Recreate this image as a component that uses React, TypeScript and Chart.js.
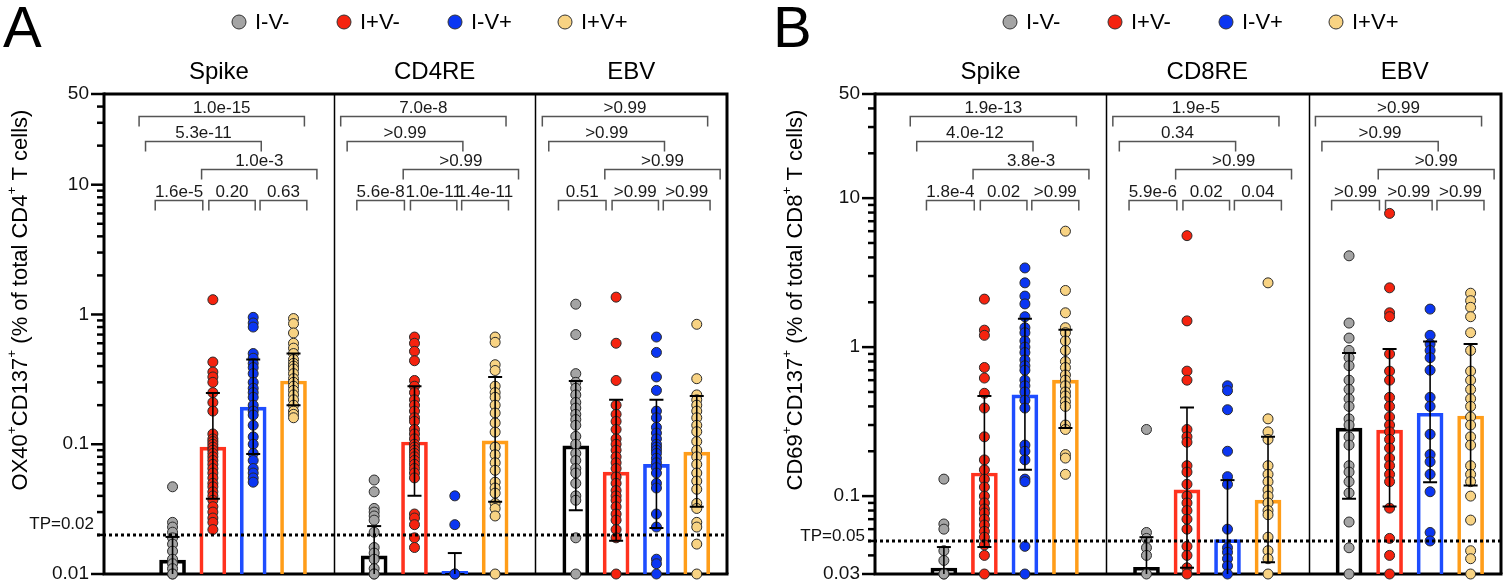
import React, { useEffect, useRef } from 'react';
import { Chart, registerables } from 'chart.js';
Chart.register(...registerables);

// ---------- shared categories / styling ----------
const conditions = ['I-V-', 'I+V-', 'I-V+', 'I+V+'];
const pointFills = ['#A4A4A4', '#F5230F', '#0B36F2', '#F8D383'];
const barEdges = ['#000000', '#FF321E', '#1E4DFF', '#FF9D19'];
const FONT = '"Liberation Sans", Arial, Helvetica, sans-serif';

// ---------- Panel A (CD4, OX40+CD137+) ----------
const groupsA = ['Spike', 'CD4RE', 'EBV'];
const aTickValues = [0.01, 0.1, 1, 10, 50];
const aTickLabels = ['0.01', '0.1', '1', '10', '50'];

const aSpikeMean = [0.0128, 0.095, 0.193, 0.307];
const aSpikeLow = [0.006, 0.038, 0.084, 0.2];
const aSpikeHigh = [0.0193, 0.248, 0.45, 0.5];
const aSpikeP = ['1.0e-15', '5.3e-11', '1.0e-3', '1.6e-5', '0.20', '0.63'];
const aSpikePts = [
  [0.047, 0.025, 0.023, 0.021, 0.019, 0.017, 0.015, 0.013, 0.012, 0.011, 0.01, 0.01],
  [1.3, 0.43, 0.36, 0.33, 0.3, 0.25, 0.21, 0.18, 0.12, 0.11, 0.105, 0.1, 0.095, 0.09, 0.085, 0.08, 0.075, 0.07, 0.065, 0.06, 0.055, 0.05, 0.047, 0.043, 0.04, 0.037, 0.033, 0.03, 0.027, 0.025, 0.022],
  [0.95, 0.86, 0.8, 0.5, 0.46, 0.42, 0.39, 0.35, 0.3, 0.27, 0.25, 0.23, 0.2, 0.18, 0.168, 0.14, 0.114, 0.1, 0.085, 0.075, 0.065, 0.06, 0.055, 0.051],
  [0.93, 0.85, 0.72, 0.6, 0.55, 0.5, 0.45, 0.42, 0.4, 0.38, 0.35, 0.32, 0.3, 0.28, 0.26, 0.24, 0.22, 0.2, 0.18, 0.17, 0.16],
];

const aCd4Mean = [0.0138, 0.104, 0.0105, 0.106];
const aCd4Low = [0.006, 0.04, 0.005, 0.036];
const aCd4High = [0.0234, 0.28, 0.0145, 0.33];
const aCd4P = ['7.0e-8', '>0.99', '>0.99', '5.6e-8', '1.0e-11', '1.4e-11'];
const aCd4Pts = [
  [0.053, 0.043, 0.032, 0.03, 0.028, 0.026, 0.021, 0.016, 0.0145, 0.013, 0.011, 0.01, 0.01],
  [0.67, 0.6, 0.52, 0.44, 0.31, 0.28, 0.25, 0.22, 0.2, 0.18, 0.16, 0.15, 0.13, 0.12, 0.11, 0.1, 0.095, 0.09, 0.085, 0.08, 0.075, 0.07, 0.065, 0.06, 0.055, 0.029, 0.027, 0.024, 0.019, 0.016],
  [0.04, 0.024, 0.01, 0.01],
  [0.67, 0.61, 0.41, 0.37, 0.28, 0.25, 0.23, 0.2, 0.174, 0.146, 0.124, 0.095, 0.083, 0.072, 0.063, 0.051, 0.046, 0.042, 0.035, 0.032, 0.028, 0.01],
];

const aEbvMean = [0.097, 0.061, 0.07, 0.087];
const aEbvLow = [0.031, 0.018, 0.0226, 0.033];
const aEbvHigh = [0.307, 0.22, 0.22, 0.235];
const aEbvP = ['>0.99', '>0.99', '>0.99', '0.51', '>0.99', '>0.99'];
const aEbvPts = [
  [1.2, 0.7, 0.35, 0.3, 0.27, 0.24, 0.21, 0.19, 0.17, 0.155, 0.14, 0.115, 0.1, 0.085, 0.075, 0.065, 0.06, 0.05, 0.04, 0.037, 0.019, 0.01],
  [1.36, 0.6, 0.31, 0.2, 0.17, 0.15, 0.13, 0.11, 0.1, 0.09, 0.08, 0.072, 0.065, 0.056, 0.05, 0.044, 0.04, 0.037, 0.033, 0.029, 0.026, 0.022, 0.019, 0.01],
  [0.67, 0.51, 0.33, 0.26, 0.18, 0.16, 0.135, 0.122, 0.11, 0.1, 0.095, 0.09, 0.085, 0.078, 0.072, 0.066, 0.06, 0.05, 0.046, 0.029, 0.023, 0.013, 0.012, 0.01],
  [0.84, 0.32, 0.24, 0.22, 0.2, 0.18, 0.16, 0.14, 0.125, 0.105, 0.09, 0.08, 0.07, 0.06, 0.052, 0.045, 0.035, 0.032, 0.025, 0.023, 0.017, 0.01],
];

// ---------- Panel B (CD8, CD69+CD137+) ----------
const groupsB = ['Spike', 'CD8RE', 'EBV'];
const bTickValues = [0.03, 0.1, 1, 10, 50];
const bTickLabels = ['0.03', '0.1', '1', '10', '50'];

const bSpikeMean = [0.0329, 0.143, 0.478, 0.6];
const bSpikeLow = [0.02, 0.0455, 0.15, 0.286];
const bSpikeHigh = [0.0455, 0.47, 1.55, 1.31];
const bSpikeP = ['1.9e-13', '4.0e-12', '3.8e-3', '1.8e-4', '0.02', '>0.99'];
const bSpikePts = [
  [0.13, 0.065, 0.06, 0.043, 0.037, 0.03, 0.03],
  [2.1, 1.3, 1.2, 0.73, 0.62, 0.49, 0.39, 0.25, 0.175, 0.15, 0.13, 0.115, 0.1, 0.09, 0.082, 0.077, 0.07, 0.064, 0.058, 0.053, 0.047, 0.04, 0.03],
  [3.4, 2.7, 2.2, 1.95, 1.6, 1.35, 1.25, 1.1, 1.0, 0.92, 0.82, 0.75, 0.7, 0.6, 0.55, 0.5, 0.44, 0.39, 0.22, 0.2, 0.175, 0.13, 0.125, 0.046, 0.03],
  [6.0, 2.4, 1.7, 1.35, 1.25, 1.1, 0.95, 0.8, 0.73, 0.65, 0.6, 0.55, 0.5, 0.47, 0.43, 0.4, 0.3, 0.28, 0.19, 0.18, 0.14],
];

const bCd8Mean = [0.0333, 0.11, 0.051, 0.094];
const bCd8Low = [0.02, 0.033, 0.02, 0.036];
const bCd8High = [0.053, 0.394, 0.128, 0.25];
const bCd8P = ['1.9e-5', '0.34', '>0.99', '5.9e-6', '0.02', '0.04'];
const bCd8Pts = [
  [0.28, 0.057, 0.052, 0.045, 0.04, 0.03],
  [5.6, 1.5, 0.69, 0.6, 0.28, 0.25, 0.23, 0.16, 0.145, 0.12, 0.1, 0.09, 0.08, 0.07, 0.06, 0.046, 0.04, 0.033, 0.03],
  [0.55, 0.51, 0.38, 0.2, 0.135, 0.12, 0.06, 0.045, 0.042, 0.038, 0.034, 0.03],
  [2.7, 0.33, 0.27, 0.24, 0.16, 0.14, 0.125, 0.11, 0.1, 0.09, 0.08, 0.075, 0.053, 0.043, 0.038, 0.03],
];

const bEbvMean = [0.286, 0.277, 0.36, 0.345];
const bEbvLow = [0.096, 0.085, 0.124, 0.118];
const bEbvHigh = [0.912, 0.97, 1.09, 1.05];
const bEbvP = ['>0.99', '>0.99', '>0.99', '>0.99', '>0.99', '>0.99'];
const bEbvPts = [
  [4.1, 1.45, 1.15, 0.95, 0.85, 0.75, 0.6, 0.52, 0.45, 0.4, 0.33, 0.3, 0.25, 0.22, 0.16, 0.145, 0.125, 0.105, 0.067, 0.045, 0.03],
  [7.9, 2.5, 1.7, 1.6, 0.9, 0.69, 0.6, 0.46, 0.4, 0.34, 0.3, 0.27, 0.24, 0.21, 0.18, 0.16, 0.14, 0.125, 0.083, 0.052, 0.04, 0.03],
  [1.8, 1.2, 1.05, 0.95, 0.85, 0.7, 0.46, 0.4, 0.26, 0.19, 0.17, 0.14, 0.107, 0.057, 0.05],
  [2.3, 2.05, 1.85, 1.6, 1.25, 0.95, 0.69, 0.6, 0.52, 0.45, 0.4, 0.34, 0.3, 0.25, 0.22, 0.16, 0.14, 0.125, 0.1, 0.069, 0.043, 0.038, 0.03],
];

// ---------- layout constants for annotations ----------
// bracket order: (0,3) (0,2) (1,3) (0,1) (1,2) (2,3); spans in category units relative to a group's first bar
const bracketSpans = [[-0.83, 3.27], [-0.67, 2.2], [0.72, 3.58], [-0.43, 0.75], [0.9, 2.05], [2.17, 3.33]];
const bracketRowOf = [0, 1, 2, 3, 3, 3];
const bracketRowY = [22, 47, 75, 106];

type Seg = [string, boolean];

type PanelSpec = {
  letter: string;
  letterX: number;
  groups: string[];
  means: number[][];
  lows: number[][];
  highs: number[][];
  pts: number[][][];
  pvals: string[][];
  yMin: number;
  tickValues: number[];
  tickLabels: string[];
  tp: number;
  tpLabel: string;
  tpLabelDy: number;
  yTitle: Seg[];
  yTitleX: number;
  padding: { left: number; right: number; top: number; bottom: number };
  legendX: number[];
};

const panelA: PanelSpec = {
  letter: 'A',
  letterX: 3,
  groups: groupsA,
  means: [aSpikeMean, aCd4Mean, aEbvMean],
  lows: [aSpikeLow, aCd4Low, aEbvLow],
  highs: [aSpikeHigh, aCd4High, aEbvHigh],
  pts: [aSpikePts, aCd4Pts, aEbvPts],
  pvals: [aSpikeP, aCd4P, aEbvP],
  yMin: 0.01,
  tickValues: aTickValues,
  tickLabels: aTickLabels,
  tp: 0.02,
  tpLabel: 'TP=0.02',
  tpLabelDy: -11,
  yTitle: [['OX40', false], ['+', true], ['CD137', false], ['+', true], [' (% of total CD4', false], ['+', true], [' T cells)', false]],
  yTitleX: 21,
  padding: { left: 104, right: 29, top: 94, bottom: 10 },
  legendX: [239, 344, 455, 565],
};

const panelB: PanelSpec = {
  letter: 'B',
  letterX: 17,
  groups: groupsB,
  means: [bSpikeMean, bCd8Mean, bEbvMean],
  lows: [bSpikeLow, bCd8Low, bEbvLow],
  highs: [bSpikeHigh, bCd8High, bEbvHigh],
  pts: [bSpikePts, bCd8Pts, bEbvPts],
  pvals: [bSpikeP, bCd8P, bEbvP],
  yMin: 0.03,
  tickValues: bTickValues,
  tickLabels: bTickLabels,
  tp: 0.05,
  tpLabel: 'TP=0.05',
  tpLabelDy: -5,
  yTitle: [['CD69', false], ['+', true], ['CD137', false], ['+', true], [' (% of total CD8', false], ['+', true], [' T cells)', false]],
  yTitleX: 40,
  padding: { left: 119, right: 11, top: 94, bottom: 10 },
  legendX: [254, 359, 470, 580],
};

function font(px: number, weight = 'normal') {
  return `${weight} ${px}px ${FONT}`;
}

function richWidth(ctx: CanvasRenderingContext2D, segs: Seg[], fs: number) {
  let w = 0;
  for (const [t, sup] of segs) {
    ctx.font = font(sup ? fs * 0.62 : fs);
    w += ctx.measureText(t).width;
  }
  return w;
}

function drawRich(ctx: CanvasRenderingContext2D, segs: Seg[], x: number, y: number, fs: number) {
  let cx = x;
  for (const [t, sup] of segs) {
    ctx.font = font(sup ? fs * 0.62 : fs);
    ctx.fillText(t, cx, sup ? y - fs * 0.42 : y);
    cx += ctx.measureText(t).width;
  }
}

function minorTicks(min: number, max: number) {
  const out: number[] = [];
  for (let e = -3; e <= 2; e++) {
    for (let m = 2; m <= 9; m++) {
      const v = m * Math.pow(10, e);
      if (v > min * 1.001 && v < max * 0.999) out.push(v);
    }
  }
  return out;
}

function makePlugin(p: PanelSpec) {
  return {
    id: 'decor' + p.letter,
    beforeDatasetsDraw(chart: any) {
      const ctx: CanvasRenderingContext2D = chart.ctx;
      const xs = chart.scales.x;
      const { left, right, top, bottom } = chart.chartArea;
      ctx.save();
      ctx.strokeStyle = '#000';
      // dividers between groups
      ctx.lineWidth = 1.5;
      [4, 9].forEach((v) => {
        const x = Math.round(xs.getPixelForValue(v)) + 0.5;
        ctx.beginPath();
        ctx.moveTo(x, top);
        ctx.lineTo(x, bottom);
        ctx.stroke();
      });
      // frame
      ctx.lineWidth = 3;
      ctx.beginPath();
      ctx.moveTo(left, top);
      ctx.lineTo(right, top);
      ctx.lineTo(right, bottom);
      ctx.stroke();
      ctx.beginPath();
      ctx.moveTo(left, top - 1.5);
      ctx.lineTo(left, bottom);
      ctx.lineTo(right + 1.5, bottom);
      ctx.stroke();
      ctx.restore();
    },
    afterDatasetsDraw(chart: any) {
      const ctx: CanvasRenderingContext2D = chart.ctx;
      const xs = chart.scales.x;
      const ys = chart.scales.y;
      const { left, right, top, bottom } = chart.chartArea;
      ctx.save();

      // error bars
      ctx.strokeStyle = '#000';
      p.means.forEach((row, g) => {
        row.forEach((_m, c) => {
          const x = xs.getPixelForValue(g * 5 + c);
          const hi = p.highs[g][c];
          const lo = p.lows[g][c];
          const yHi = ys.getPixelForValue(hi);
          const loVisible = lo >= p.yMin;
          const yLo = loVisible ? ys.getPixelForValue(lo) : bottom;
          ctx.lineWidth = 1.6;
          ctx.beginPath();
          ctx.moveTo(x, yLo);
          ctx.lineTo(x, yHi);
          ctx.stroke();
          ctx.lineWidth = 2;
          ctx.beginPath();
          ctx.moveTo(x - 7, yHi);
          ctx.lineTo(x + 7, yHi);
          if (loVisible) {
            ctx.moveTo(x - 7, yLo);
            ctx.lineTo(x + 7, yLo);
          }
          ctx.stroke();
        });
      });

      // threshold (TP) dotted line
      const yTp = ys.getPixelForValue(p.tp);
      ctx.save();
      ctx.setLineDash([3, 3]);
      ctx.lineWidth = 3;
      ctx.strokeStyle = '#000';
      ctx.beginPath();
      ctx.moveTo(left - 7, yTp);
      ctx.lineTo(right, yTp);
      ctx.stroke();
      ctx.restore();

      // y axis ticks
      ctx.strokeStyle = '#000';
      ctx.lineWidth = 2.5;
      ctx.fillStyle = '#111';
      ctx.textAlign = 'right';
      ctx.textBaseline = 'middle';
      ctx.font = font(19);
      p.tickValues.forEach((v, i) => {
        const y = ys.getPixelForValue(v);
        ctx.beginPath();
        ctx.moveTo(left - 13, y);
        ctx.lineTo(left, y);
        ctx.stroke();
        ctx.fillText(p.tickLabels[i], left - 15, y);
      });
      minorTicks(p.yMin, p.tickValues[p.tickValues.length - 1]).forEach((v) => {
        if (p.tickValues.includes(v)) return;
        const y = ys.getPixelForValue(v);
        ctx.beginPath();
        ctx.moveTo(left - 7, y);
        ctx.lineTo(left, y);
        ctx.stroke();
      });
      ctx.font = font(17);
      ctx.fillText(p.tpLabel, left - 10, yTp + p.tpLabelDy);

      // significance brackets
      ctx.strokeStyle = '#555';
      ctx.lineWidth = 1.5;
      ctx.fillStyle = '#1a1a1a';
      ctx.textAlign = 'center';
      ctx.textBaseline = 'alphabetic';
      ctx.font = font(17);
      p.pvals.forEach((labels, g) => {
        labels.forEach((lab, k) => {
          const [a, b] = bracketSpans[k];
          const x1 = xs.getPixelForValue(g * 5 + a);
          const x2 = xs.getPixelForValue(g * 5 + b);
          const y = top + bracketRowY[bracketRowOf[k]] + 0.5;
          ctx.beginPath();
          ctx.moveTo(x1, y + 10);
          ctx.lineTo(x1, y);
          ctx.lineTo(x2, y);
          ctx.lineTo(x2, y + 10);
          ctx.stroke();
          ctx.fillText(lab, (x1 + x2) / 2, y - 4);
        });
      });

      // group titles
      ctx.fillStyle = '#000';
      ctx.font = font(24);
      ctx.textBaseline = 'middle';
      p.groups.forEach((name, g) => {
        const l = g === 0 ? left : xs.getPixelForValue(g * 5 - 1);
        const r = g === p.groups.length - 1 ? right : xs.getPixelForValue(g * 5 + 4);
        ctx.fillText(name, (l + r) / 2, 72);
      });

      // legend
      ctx.textAlign = 'left';
      ctx.font = font(22);
      conditions.forEach((name, c) => {
        const cx = p.legendX[c];
        ctx.beginPath();
        ctx.arc(cx, 22, 7, 0, Math.PI * 2);
        ctx.fillStyle = pointFills[c];
        ctx.fill();
        ctx.lineWidth = 1;
        ctx.strokeStyle = '#333';
        ctx.stroke();
        ctx.fillStyle = '#000';
        ctx.fillText(name, cx + 16, 23);
      });

      // panel letter
      ctx.font = font(58);
      ctx.textBaseline = 'alphabetic';
      ctx.fillText(p.letter, p.letterX, 47);

      // y axis title (rotated)
      const fs = 22;
      const w = richWidth(ctx, p.yTitle, fs);
      ctx.save();
      ctx.translate(p.yTitleX, (top + bottom) / 2 - 34);
      ctx.rotate(-Math.PI / 2);
      ctx.textAlign = 'left';
      ctx.textBaseline = 'middle';
      drawRich(ctx, p.yTitle, -w / 2, 0, fs);
      ctx.restore();

      ctx.restore();
    },
  };
}

function buildChart(canvas: HTMLCanvasElement, p: PanelSpec) {
  const barData: { x: number; y: number }[] = [];
  const barColors: string[] = [];
  p.means.forEach((row, g) =>
    row.forEach((m, c) => {
      barData.push({ x: g * 5 + c, y: m });
      barColors.push(barEdges[c]);
    })
  );
  const scatterSets = conditions.map((name, c) => ({
    type: 'scatter' as const,
    label: name,
    data: p.pts.flatMap((grp, g) => grp[c].map((v) => ({ x: g * 5 + c, y: v }))),
    backgroundColor: pointFills[c],
    borderColor: '#2a2a2a',
    borderWidth: 1,
    pointRadius: 5,
    pointHoverRadius: 5,
    showLine: false,
    clip: false as any,
    order: 1,
  }));
  return new Chart(canvas, {
    type: 'bar',
    data: {
      datasets: [
        {
          type: 'bar',
          label: 'mean',
          data: barData as any,
          backgroundColor: 'rgba(255,255,255,0)',
          borderColor: barColors,
          borderWidth: 3,
          borderSkipped: 'bottom',
          barThickness: 26,
          order: 3,
        } as any,
        ...(scatterSets as any[]),
      ],
    },
    options: {
      animation: false,
      responsive: false,
      maintainAspectRatio: false,
      devicePixelRatio: 1,
      layout: { padding: p.padding },
      scales: {
        x: { type: 'linear', min: -1.7, max: 13.75, offset: false, display: false, grid: { offset: false } },
        y: { type: 'logarithmic', min: p.yMin, max: 50, display: false },
      },
      plugins: { legend: { display: false }, tooltip: { enabled: false } },
      events: [],
    },
    plugins: [makePlugin(p)],
  });
}

export default function App() {
  const refA = useRef<HTMLCanvasElement>(null);
  const refB = useRef<HTMLCanvasElement>(null);
  useEffect(() => {
    const ca = buildChart(refA.current!, panelA);
    const cb = buildChart(refB.current!, panelB);
    return () => {
      ca.destroy();
      cb.destroy();
    };
  }, []);
  return (
    <div style={{ position: 'absolute', left: 0, top: 0, width: 1512, height: 584, background: '#fff', overflow: 'hidden' }}>
      <canvas ref={refA} width={756} height={584} style={{ position: 'absolute', left: 0, top: 0 }} />
      <canvas ref={refB} width={756} height={584} style={{ position: 'absolute', left: 756, top: 0 }} />
    </div>
  );
}
